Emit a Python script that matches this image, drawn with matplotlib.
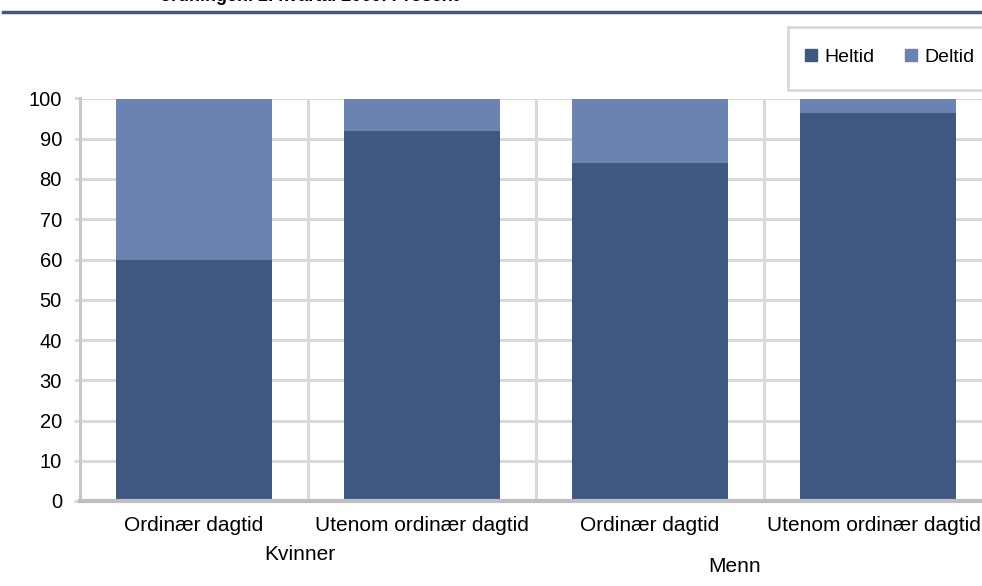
import matplotlib
matplotlib.use("Agg")
import matplotlib.pyplot as plt
from matplotlib.lines import Line2D

plt.rcParams['font.family'] = ['Liberation Sans', 'DejaVu Sans']

categories = ["Ordinær dagtid", "Utenom ordinær dagtid", "Ordinær dagtid", "Utenom ordinær dagtid"]
groups = ["Kvinner", "Menn"]
heltid = [59.9, 91.9, 84.0, 96.4]
deltid = [100 - v for v in heltid]
yticks = [0, 10, 20, 30, 40, 50, 60, 70, 80, 90, 100]
title_text = "ordningen. 2. kvartal 2009. Prosent"

c_dark = "#3e5880"
c_light = "#6a83b0"
grid_c = "#d9d9d9"

W, H = 982, 586
fig = plt.figure(figsize=(W / 100, H / 100), dpi=100)

left, right = 80, 992
top, bottom = 98.5, 501
ax = fig.add_axes([left / W, 1 - bottom / H, (right - left) / W, (bottom - top) / H])

x = list(range(len(categories)))
ax.bar(x, heltid, width=0.68, color=c_dark, label="Heltid", zorder=3)
ax.bar(x, deltid, width=0.68, bottom=heltid, color=c_light, label="Deltid", zorder=3)

ax.set_xlim(-0.5, len(categories) - 0.5)
ax.set_ylim(0, 100)
ax.set_yticks(yticks)
ax.set_yticklabels([str(t) for t in yticks], fontsize=14.5)
ax.tick_params(axis='y', length=4, width=2, color=grid_c, pad=9)
ax.tick_params(axis='x', length=0, labelbottom=False)

for t in yticks[1:]:
    ax.axhline(t, color=grid_c, lw=2.2, zorder=1)
for b in [0.5, 1.5, 2.5]:
    ax.axvline(b, color=grid_c, lw=2.2, zorder=1)

for s in ['top', 'right']:
    ax.spines[s].set_visible(False)
ax.spines['left'].set_color("#c8c8c8")
ax.spines['left'].set_linewidth(2.2)
ax.spines['bottom'].set_color("#bfbfbf")
ax.spines['bottom'].set_linewidth(3)
ax.spines['bottom'].set_zorder(4)

trans = ax.get_xaxis_transform()
label_texts = []
for xi, lab in zip(x, categories):
    label_texts.append(ax.text(xi, -0.06, lab, transform=trans, ha='center', va='center',
                               fontsize=15, clip_on=False))
group_x = [0.465, 2.373]
group_y = [-0.134, -0.162]
for gx, gy, g in zip(group_x, group_y, groups):
    ax.text(gx, gy, g, transform=trans, ha='center', va='center', fontsize=15, clip_on=False)

# keep category labels inside the figure (like the source, where the last one ends at the edge)
fig.canvas.draw()
renderer = fig.canvas.get_renderer()
for t in label_texts:
    bb = t.get_window_extent(renderer)
    if bb.x1 > W - 1:
        t.set_ha('right')
        t.set_transform(fig.transFigure)
        t.set_position(((W - 1.5) / W, (bb.y0 + bb.y1) / 2 / H))

# legend
fig.patches.append(plt.Rectangle((788 / W, 1 - 90 / H), 200 / W, 63 / H, transform=fig.transFigure,
                                 facecolor='white', edgecolor='#d9d9d9', lw=2))
handles = [Line2D([], [], marker='s', ls='', color=c_dark, markersize=8),
           Line2D([], [], marker='s', ls='', color=c_light, markersize=8)]
fig.legend(handles, ["Heltid", "Deltid"], loc='center left', bbox_to_anchor=(793 / W, 1 - 57 / H),
           ncol=2, frameon=False, fontsize=14, handlelength=0.8, handletextpad=0.3,
           columnspacing=1.5, borderpad=0)

# top rule and clipped title (cut off at the top edge, as in the source)
fig.add_artist(Line2D([3 / W, 1], [1 - 12 / H, 1 - 12 / H], transform=fig.transFigure,
                      color="#405886", lw=2.5))
fig.text(160 / W, 1 - 1.0 / H, title_text, fontsize=13, fontweight='bold', ha='left', va='baseline')

fig.savefig("out.png", dpi=100)
